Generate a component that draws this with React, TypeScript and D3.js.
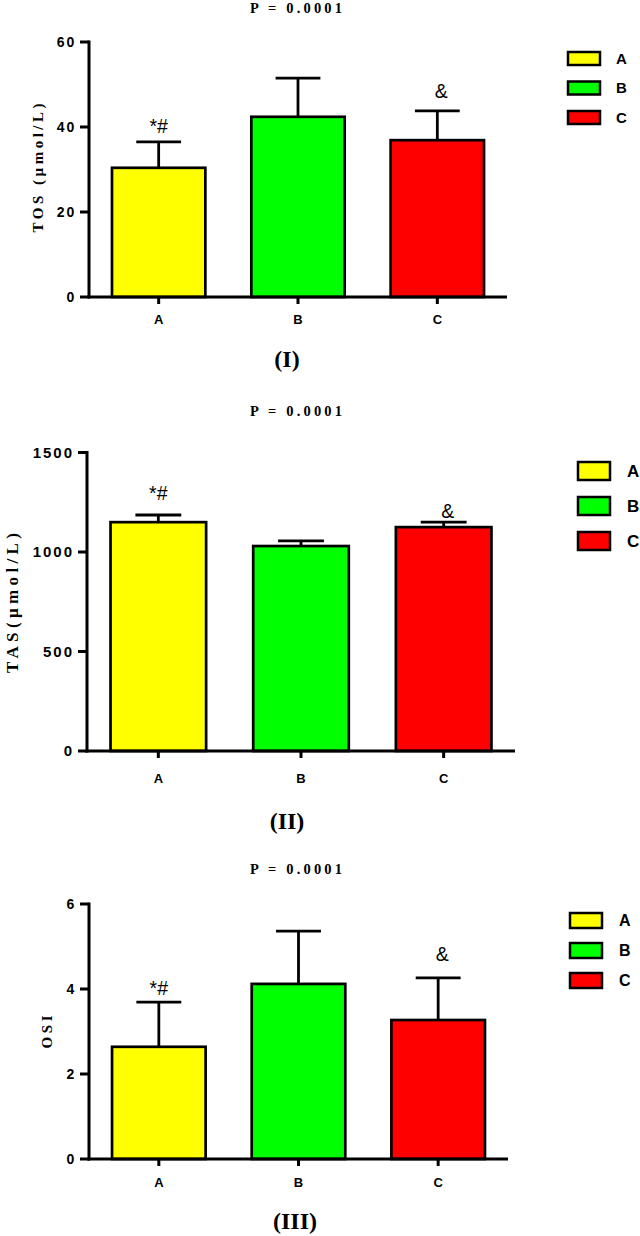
import React from "react";
import * as d3 from "d3";

// ---------- data ----------
const categories = ["A", "B", "C"];
const fills = ["#FFFF00", "#00FF00", "#FF0000"];
const tosMean = [30.4, 42.4, 36.9];
const tosSD = [6.1, 9.1, 6.9];
const tasMean = [1150, 1030, 1125];
const tasSD = [36, 26, 25];
const osiMean = [2.64, 4.12, 3.27];
const osiSD = [1.05, 1.24, 0.99];
const marks = ["*#", "", "&"];
const tosTicks = [0, 20, 40, 60];
const tasTicks = [0, 500, 1000, 1500];
const osiTicks = [0, 2, 4, 6];
const pValue = "P = 0.0001";
const panelTitles = ["(I)", "(II)", "(III)"];
const yLabels = ["TOS (µmol/L)", "TAS(µmol/L)", "OSI"];

// ---------- layout ----------
const panels = [
  {
    mean: tosMean, sd: tosSD, ticks: tosTicks, yLabel: yLabels[0], title: panelTitles[0],
    yTop: 42, yBottom: 297, x0: 89, x1: 507, tickFont: 14, tickLS: 1.8,
    pY: 12.5, yLabX: 38, yLabY: 168, yLabLen: 129, yLabFont: 15,
    catY: 324, titleX: 287, titleY: 367,
    leg: { x: 568, y: 52, w: 32, h: 13, gap: 29.5, font: 15, labX: 616 },
    markGap: [9, 0, 12.7],
  },
  {
    mean: tasMean, sd: tasSD, ticks: tasTicks, yLabel: yLabels[1], title: panelTitles[1],
    yTop: 452.5, yBottom: 751, x0: 87, x1: 515, tickFont: 15, tickLS: 2,
    pY: 416, yLabX: 12, yLabY: 603, yLabLen: 140, yLabFont: 17,
    catY: 783, titleX: 287, titleY: 829,
    leg: { x: 578, y: 462, w: 32, h: 18, gap: 35, font: 17, labX: 627 },
    markGap: [15, 0, 4],
  },
  {
    mean: osiMean, sd: osiSD, ticks: osiTicks, yLabel: yLabels[2], title: panelTitles[2],
    yTop: 904, yBottom: 1159, x0: 89, x1: 508, tickFont: 14, tickLS: 1.8,
    pY: 874, yLabX: 47, yLabY: 1032, yLabLen: 33, yLabFont: 15,
    catY: 1187, titleX: 295, titleY: 1229,
    leg: { x: 570, y: 913, w: 32, h: 15, gap: 30, font: 16, labX: 619 },
    markGap: [7, 0, 17],
  },
];

const SANS = "Liberation Sans, Arial, sans-serif";
const SERIF = "Liberation Serif, Times New Roman, serif";

function Panel({ p }: { p: any }) {
  const domainMax = p.ticks[p.ticks.length - 1];
  const y = d3.scaleLinear().domain([0, domainMax]).range([p.yBottom, p.yTop]);
  const x = d3.scaleBand<string>().domain(categories).range([p.x0, p.x1]).paddingInner(0.33).paddingOuter(0.165);
  const bw = x.bandwidth();
  const capW = bw * 0.48;
  return (
    <g>
      <text x={296} y={p.pY} textAnchor="middle" fontFamily={SERIF} fontWeight="bold" fontSize={14.5}
        textLength={92} lengthAdjust="spacing">{pValue}</text>
      {/* bars */}
      {categories.map((c, i) => {
        const cx = (x(c) as number) + bw / 2;
        const top = y(p.mean[i]);
        const et = y(p.mean[i] + p.sd[i]);
        return (
          <g key={c}>
            <line x1={cx} x2={cx} y1={top} y2={et} stroke="#000" strokeWidth={2.8} />
            <line x1={cx - capW / 2} x2={cx + capW / 2} y1={et} y2={et} stroke="#000" strokeWidth={2.8} />
            <rect x={x(c)} y={top} width={bw} height={p.yBottom - top} fill={fills[i]} stroke="#000" strokeWidth={2.7} />
            {marks[i] && (
              <text x={cx + (marks[i] === "&" ? 4 : 0)} y={et - p.markGap[i]} textAnchor="middle" fontFamily={SANS} fontSize={19.5}>{marks[i]}</text>
            )}
          </g>
        );
      })}
      {/* y axis */}
      <line x1={p.x0} x2={p.x0} y1={p.yTop - 1.5} y2={p.yBottom + 1.5} stroke="#000" strokeWidth={3} />
      {p.ticks.map((t: number) => (
        <g key={t}>
          <line x1={p.x0 - 9} x2={p.x0} y1={y(t)} y2={y(t)} stroke="#000" strokeWidth={3} />
          <text x={p.x0 - 13} y={y(t)} dy="0.36em" textAnchor="end" fontFamily={SANS} fontWeight="bold"
            fontSize={p.tickFont} letterSpacing={p.tickLS}>{t}</text>
        </g>
      ))}
      {/* x axis */}
      <line x1={p.x0 - 1.5} x2={p.x1} y1={p.yBottom} y2={p.yBottom} stroke="#000" strokeWidth={3} />
      {categories.map((c) => {
        const cx = (x(c) as number) + bw / 2;
        return (
          <g key={c}>
            <line x1={cx} x2={cx} y1={p.yBottom} y2={p.yBottom + 7} stroke="#000" strokeWidth={3} />
            <text x={cx} y={p.catY} textAnchor="middle" fontFamily={SANS} fontWeight="bold" fontSize={13}>{c}</text>
          </g>
        );
      })}
      {/* y label */}
      <text transform={`translate(${p.yLabX},${p.yLabY}) rotate(-90)`} textAnchor="middle" dominantBaseline="central"
        fontFamily={SERIF} fontWeight="bold" fontSize={p.yLabFont} textLength={p.yLabLen} lengthAdjust="spacing">{p.yLabel}</text>
      {/* title */}
      <text x={p.titleX} y={p.titleY} textAnchor="middle" fontFamily={SERIF} fontWeight="bold" fontSize={24}>{p.title}</text>
      {/* legend */}
      {categories.map((c, i) => (
        <g key={c}>
          <rect x={p.leg.x} y={p.leg.y + i * p.leg.gap} width={p.leg.w} height={p.leg.h} fill={fills[i]} stroke="#000" strokeWidth={2.5} />
          <text x={p.leg.labX} y={p.leg.y + i * p.leg.gap + p.leg.h / 2} dy="0.36em" fontFamily={SANS} fontWeight="bold" fontSize={p.leg.font}>{c}</text>
        </g>
      ))}
    </g>
  );
}

export default function App() {
  return (
    <svg width={640} height={1236} style={{ position: "absolute", left: 0, top: 0, background: "#fff" }}>
      <rect width={640} height={1236} fill="#fff" />
      {panels.map((p, i) => <Panel key={i} p={p} />)}
    </svg>
  );
}
